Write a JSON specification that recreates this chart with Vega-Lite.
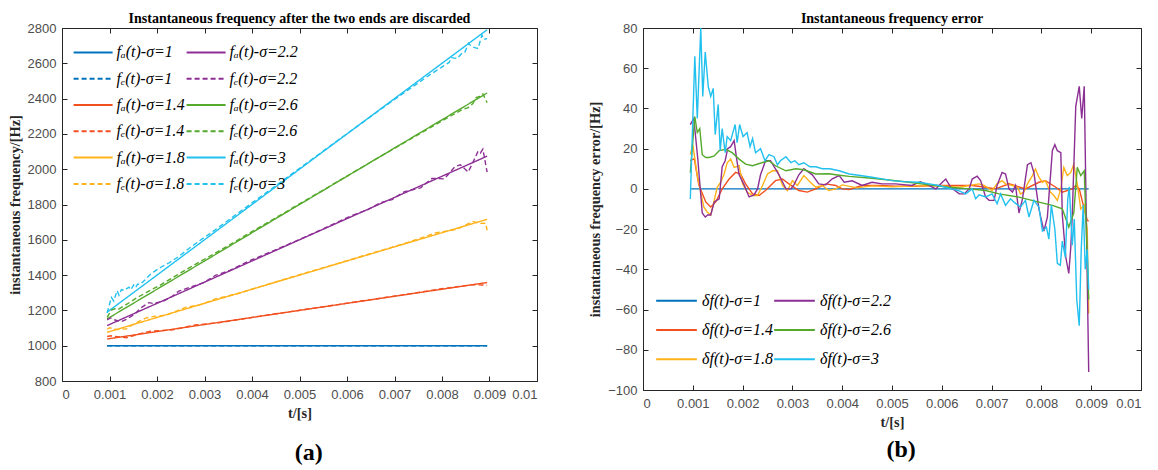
{
"$schema": "https://vega.github.io/schema/vega-lite/v6.json",
"padding": {"left": 8, "top": 11, "right": 0, "bottom": 0},
"background": "white",
"spacing": 50,
"resolve": {"scale": {"color": "independent", "strokeDash": "independent"}, "legend": {"color": "independent", "strokeDash": "independent"}},
"config": {
 "view": {"stroke": null},
 "concat": {"spacing": 0},
 "axis": {"grid": false, "domainColor": "#262626", "tickColor": "#262626", "tickSize": -5, "labelFont": "Liberation Sans", "labelFontSize": 13, "labelColor": "#4d4d4d", "titleFont": "Liberation Serif", "titleFontSize": 14.3, "titleFontWeight": "bold", "titleColor": "#262626"},
 "axisX": {"labelPadding": 12, "titlePadding": 5},
 "axisY": {"labelPadding": 11, "titlePadding": 5},
 "title": {"font": "Liberation Serif", "fontSize": 14, "fontWeight": "bold", "color": "#000000", "anchor": "middle", "frame": "group"},
 "legend": {"labelFont": "Liberation Serif", "labelFontStyle": "italic", "labelFontSize": 16, "labelColor": "#000000", "symbolStrokeWidth": 2, "padding": 0, "clipHeight": 16, "columns": 2, "orient": "none", "labelLimit": 300}
},
"datasets": {
 "a": [
  {"t":0.00095,"f":1000,"s":"fₐ(t)-σ=1"},{"t":0.00895,"f":1000,"s":"fₐ(t)-σ=1"},
  {"t":0.00095,"f":1038,"s":"fₐ(t)-σ=1.4"},{"t":0.00895,"f":1358,"s":"fₐ(t)-σ=1.4"},
  {"t":0.00095,"f":1076,"s":"fₐ(t)-σ=1.8"},{"t":0.00895,"f":1716,"s":"fₐ(t)-σ=1.8"},
  {"t":0.00095,"f":1114,"s":"fₐ(t)-σ=2.2"},{"t":0.00895,"f":2074,"s":"fₐ(t)-σ=2.2"},
  {"t":0.00095,"f":1152,"s":"fₐ(t)-σ=2.6"},{"t":0.00895,"f":2432,"s":"fₐ(t)-σ=2.6"},
  {"t":0.00095,"f":1190,"s":"fₐ(t)-σ=3"},{"t":0.00895,"f":2790,"s":"fₐ(t)-σ=3"},
  {"t":0.00095,"f":1000,"s":"fₑ(t)-σ=1"},{"t":0.00895,"f":1000,"s":"fₑ(t)-σ=1"},
  {"t":0.00095,"f":1052,"s":"fₑ(t)-σ=1.4"},{"t":0.00103,"f":1056,"s":"fₑ(t)-σ=1.4"},{"t":0.00136,"f":1045,"s":"fₑ(t)-σ=1.4"},{"t":0.00159,"f":1064,"s":"fₑ(t)-σ=1.4"},{"t":0.00186,"f":1082,"s":"fₑ(t)-σ=1.4"},{"t":0.00233,"f":1090,"s":"fₑ(t)-σ=1.4"},{"t":0.0028,"f":1117,"s":"fₑ(t)-σ=1.4"},{"t":0.0033,"f":1130,"s":"fₑ(t)-σ=1.4"},{"t":0.00414,"f":1166,"s":"fₑ(t)-σ=1.4"},{"t":0.00548,"f":1220,"s":"fₑ(t)-σ=1.4"},{"t":0.00688,"f":1276,"s":"fₑ(t)-σ=1.4"},{"t":0.00795,"f":1321,"s":"fₑ(t)-σ=1.4"},{"t":0.00862,"f":1345,"s":"fₑ(t)-σ=1.4"},{"t":0.00886,"f":1344,"s":"fₑ(t)-σ=1.4"},{"t":0.00895,"f":1342,"s":"fₑ(t)-σ=1.4"},
  {"t":0.00095,"f":1093,"s":"fₑ(t)-σ=1.8"},{"t":0.001,"f":1102,"s":"fₑ(t)-σ=1.8"},{"t":0.00116,"f":1091,"s":"fₑ(t)-σ=1.8"},{"t":0.00136,"f":1096,"s":"fₑ(t)-σ=1.8"},{"t":0.00149,"f":1120,"s":"fₑ(t)-σ=1.8"},{"t":0.00176,"f":1156,"s":"fₑ(t)-σ=1.8"},{"t":0.00193,"f":1166,"s":"fₑ(t)-σ=1.8"},{"t":0.0022,"f":1173,"s":"fₑ(t)-σ=1.8"},{"t":0.0026,"f":1217,"s":"fₑ(t)-σ=1.8"},{"t":0.0029,"f":1231,"s":"fₑ(t)-σ=1.8"},{"t":0.00323,"f":1265,"s":"fₑ(t)-σ=1.8"},{"t":0.00373,"f":1297,"s":"fₑ(t)-σ=1.8"},{"t":0.0046,"f":1370,"s":"fₑ(t)-σ=1.8"},{"t":0.0055,"f":1442,"s":"fₑ(t)-σ=1.8"},{"t":0.00655,"f":1526,"s":"fₑ(t)-σ=1.8"},{"t":0.00728,"f":1585,"s":"fₑ(t)-σ=1.8"},{"t":0.00788,"f":1640,"s":"fₑ(t)-σ=1.8"},{"t":0.00832,"f":1660,"s":"fₑ(t)-σ=1.8"},{"t":0.00865,"f":1704,"s":"fₑ(t)-σ=1.8"},{"t":0.00879,"f":1693,"s":"fₑ(t)-σ=1.8"},{"t":0.00892,"f":1694,"s":"fₑ(t)-σ=1.8"},{"t":0.00895,"f":1654,"s":"fₑ(t)-σ=1.8"},
  {"t":0.00095,"f":1146,"s":"fₑ(t)-σ=2.2"},{"t":0.00102,"f":1157,"s":"fₑ(t)-σ=2.2"},{"t":0.0011,"f":1147,"s":"fₑ(t)-σ=2.2"},{"t":0.00125,"f":1136,"s":"fₑ(t)-σ=2.2"},{"t":0.00136,"f":1150,"s":"fₑ(t)-σ=2.2"},{"t":0.00153,"f":1179,"s":"fₑ(t)-σ=2.2"},{"t":0.00165,"f":1212,"s":"fₑ(t)-σ=2.2"},{"t":0.00183,"f":1244,"s":"fₑ(t)-σ=2.2"},{"t":0.00193,"f":1239,"s":"fₑ(t)-σ=2.2"},{"t":0.00213,"f":1252,"s":"fₑ(t)-σ=2.2"},{"t":0.0023,"f":1276,"s":"fₑ(t)-σ=2.2"},{"t":0.00246,"f":1309,"s":"fₑ(t)-σ=2.2"},{"t":0.00273,"f":1335,"s":"fₑ(t)-σ=2.2"},{"t":0.00297,"f":1356,"s":"fₑ(t)-σ=2.2"},{"t":0.00323,"f":1398,"s":"fₑ(t)-σ=2.2"},{"t":0.00353,"f":1426,"s":"fₑ(t)-σ=2.2"},{"t":0.00394,"f":1480,"s":"fₑ(t)-σ=2.2"},{"t":0.0046,"f":1555,"s":"fₑ(t)-σ=2.2"},{"t":0.0054,"f":1650,"s":"fₑ(t)-σ=2.2"},{"t":0.00608,"f":1735,"s":"fₑ(t)-σ=2.2"},{"t":0.00645,"f":1772,"s":"fₑ(t)-σ=2.2"},{"t":0.00671,"f":1811,"s":"fₑ(t)-σ=2.2"},{"t":0.00695,"f":1828,"s":"fₑ(t)-σ=2.2"},{"t":0.00721,"f":1873,"s":"fₑ(t)-σ=2.2"},{"t":0.00755,"f":1894,"s":"fₑ(t)-σ=2.2"},{"t":0.00779,"f":1948,"s":"fₑ(t)-σ=2.2"},{"t":0.00805,"f":1945,"s":"fₑ(t)-σ=2.2"},{"t":0.00827,"f":2014,"s":"fₑ(t)-σ=2.2"},{"t":0.00839,"f":2025,"s":"fₑ(t)-σ=2.2"},{"t":0.00855,"f":1984,"s":"fₑ(t)-σ=2.2"},{"t":0.00862,"f":2021,"s":"fₑ(t)-σ=2.2"},{"t":0.00876,"f":2102,"s":"fₑ(t)-σ=2.2"},{"t":0.00881,"f":2092,"s":"fₑ(t)-σ=2.2"},{"t":0.00886,"f":2114,"s":"fₑ(t)-σ=2.2"},{"t":0.00895,"f":1983,"s":"fₑ(t)-σ=2.2"},
  {"t":0.00095,"f":1160,"s":"fₑ(t)-σ=2.6"},{"t":0.00104,"f":1202,"s":"fₑ(t)-σ=2.6"},{"t":0.00114,"f":1212,"s":"fₑ(t)-σ=2.6"},{"t":0.00119,"f":1207,"s":"fₑ(t)-σ=2.6"},{"t":0.00133,"f":1229,"s":"fₑ(t)-σ=2.6"},{"t":0.00153,"f":1264,"s":"fₑ(t)-σ=2.6"},{"t":0.00179,"f":1304,"s":"fₑ(t)-σ=2.6"},{"t":0.00206,"f":1342,"s":"fₑ(t)-σ=2.6"},{"t":0.0024,"f":1397,"s":"fₑ(t)-σ=2.6"},{"t":0.00266,"f":1438,"s":"fₑ(t)-σ=2.6"},{"t":0.00307,"f":1501,"s":"fₑ(t)-σ=2.6"},{"t":0.00347,"f":1562,"s":"fₑ(t)-σ=2.6"},{"t":0.00394,"f":1637,"s":"fₑ(t)-σ=2.6"},{"t":0.00454,"f":1731,"s":"fₑ(t)-σ=2.6"},{"t":0.00534,"f":1857,"s":"fₑ(t)-σ=2.6"},{"t":0.00614,"f":1983,"s":"fₑ(t)-σ=2.6"},{"t":0.00688,"f":2100,"s":"fₑ(t)-σ=2.6"},{"t":0.00755,"f":2204,"s":"fₑ(t)-σ=2.6"},{"t":0.00822,"f":2307,"s":"fₑ(t)-σ=2.6"},{"t":0.00842,"f":2337,"s":"fₑ(t)-σ=2.6"},{"t":0.00855,"f":2349,"s":"fₑ(t)-σ=2.6"},{"t":0.00865,"f":2372,"s":"fₑ(t)-σ=2.6"},{"t":0.00872,"f":2406,"s":"fₑ(t)-σ=2.6"},{"t":0.00879,"f":2413,"s":"fₑ(t)-σ=2.6"},{"t":0.00886,"f":2427,"s":"fₑ(t)-σ=2.6"},{"t":0.00895,"f":2377,"s":"fₑ(t)-σ=2.6"},
  {"t":0.00095,"f":1185,"s":"fₑ(t)-σ=3"},{"t":0.00104,"f":1274,"s":"fₑ(t)-σ=3"},{"t":0.00109,"f":1253,"s":"fₑ(t)-σ=3"},{"t":0.00116,"f":1312,"s":"fₑ(t)-σ=3"},{"t":0.0012,"f":1286,"s":"fₑ(t)-σ=3"},{"t":0.00125,"f":1318,"s":"fₑ(t)-σ=3"},{"t":0.00131,"f":1313,"s":"fₑ(t)-σ=3"},{"t":0.00141,"f":1332,"s":"fₑ(t)-σ=3"},{"t":0.00145,"f":1317,"s":"fₑ(t)-σ=3"},{"t":0.00151,"f":1344,"s":"fₑ(t)-σ=3"},{"t":0.00155,"f":1329,"s":"fₑ(t)-σ=3"},{"t":0.00159,"f":1348,"s":"fₑ(t)-σ=3"},{"t":0.00165,"f":1348,"s":"fₑ(t)-σ=3"},{"t":0.00176,"f":1376,"s":"fₑ(t)-σ=3"},{"t":0.00185,"f":1402,"s":"fₑ(t)-σ=3"},{"t":0.00194,"f":1420,"s":"fₑ(t)-σ=3"},{"t":0.00209,"f":1446,"s":"fₑ(t)-σ=3"},{"t":0.00226,"f":1470,"s":"fₑ(t)-σ=3"},{"t":0.00245,"f":1504,"s":"fₑ(t)-σ=3"},{"t":0.00263,"f":1542,"s":"fₑ(t)-σ=3"},{"t":0.00287,"f":1590,"s":"fₑ(t)-σ=3"},{"t":0.00313,"f":1638,"s":"fₑ(t)-σ=3"},{"t":0.00347,"f":1705,"s":"fₑ(t)-σ=3"},{"t":0.00394,"f":1797,"s":"fₑ(t)-σ=3"},{"t":0.0046,"f":1926,"s":"fₑ(t)-σ=3"},{"t":0.00554,"f":2111,"s":"fₑ(t)-σ=3"},{"t":0.0062,"f":2240,"s":"fₑ(t)-σ=3"},{"t":0.00688,"f":2372,"s":"fₑ(t)-σ=3"},{"t":0.00728,"f":2448,"s":"fₑ(t)-σ=3"},{"t":0.00775,"f":2536,"s":"fₑ(t)-σ=3"},{"t":0.00802,"f":2583,"s":"fₑ(t)-σ=3"},{"t":0.00815,"f":2605,"s":"fₑ(t)-σ=3"},{"t":0.0082,"f":2632,"s":"fₑ(t)-σ=3"},{"t":0.00832,"f":2627,"s":"fₑ(t)-σ=3"},{"t":0.00842,"f":2658,"s":"fₑ(t)-σ=3"},{"t":0.00848,"f":2662,"s":"fₑ(t)-σ=3"},{"t":0.00856,"f":2713,"s":"fₑ(t)-σ=3"},{"t":0.00862,"f":2696,"s":"fₑ(t)-σ=3"},{"t":0.00871,"f":2687,"s":"fₑ(t)-σ=3"},{"t":0.00876,"f":2684,"s":"fₑ(t)-σ=3"},{"t":0.00884,"f":2760,"s":"fₑ(t)-σ=3"},{"t":0.00888,"f":2736,"s":"fₑ(t)-σ=3"},{"t":0.00895,"f":2740,"s":"fₑ(t)-σ=3"}
 ],
 "b": [
  {"t":0.00095,"e":0,"s":"δf(t)-σ=1"},{"t":0.00895,"e":0,"s":"δf(t)-σ=1"},
  {"t":0.00095,"e":14,"s":"δf(t)-σ=1.4"},{"t":0.00103,"e":15,"s":"δf(t)-σ=1.4"},{"t":0.00112,"e":2,"s":"δf(t)-σ=1.4"},{"t":0.00126,"e":-6.5,"s":"δf(t)-σ=1.4"},{"t":0.00136,"e":-9,"s":"δf(t)-σ=1.4"},{"t":0.00146,"e":-6.5,"s":"δf(t)-σ=1.4"},{"t":0.00159,"e":0,"s":"δf(t)-σ=1.4"},{"t":0.00173,"e":4.9,"s":"δf(t)-σ=1.4"},{"t":0.00186,"e":8.2,"s":"δf(t)-σ=1.4"},{"t":0.00196,"e":7.4,"s":"δf(t)-σ=1.4"},{"t":0.00206,"e":2.5,"s":"δf(t)-σ=1.4"},{"t":0.0022,"e":-2.5,"s":"δf(t)-σ=1.4"},{"t":0.00233,"e":-3.3,"s":"δf(t)-σ=1.4"},{"t":0.00246,"e":-0.8,"s":"δf(t)-σ=1.4"},{"t":0.00266,"e":4.1,"s":"δf(t)-σ=1.4"},{"t":0.0028,"e":4.9,"s":"δf(t)-σ=1.4"},{"t":0.00293,"e":2.5,"s":"δf(t)-σ=1.4"},{"t":0.00313,"e":-0.8,"s":"δf(t)-σ=1.4"},{"t":0.0033,"e":-1.6,"s":"δf(t)-σ=1.4"},{"t":0.00347,"e":0,"s":"δf(t)-σ=1.4"},{"t":0.00367,"e":2.5,"s":"δf(t)-σ=1.4"},{"t":0.00387,"e":1.7,"s":"δf(t)-σ=1.4"},{"t":0.004,"e":0,"s":"δf(t)-σ=1.4"},{"t":0.00414,"e":-0.3,"s":"δf(t)-σ=1.4"},{"t":0.0044,"e":1.7,"s":"δf(t)-σ=1.4"},{"t":0.00474,"e":1.7,"s":"δf(t)-σ=1.4"},{"t":0.00507,"e":1.3,"s":"δf(t)-σ=1.4"},{"t":0.00548,"e":1.3,"s":"δf(t)-σ=1.4"},{"t":0.00588,"e":1.7,"s":"δf(t)-σ=1.4"},{"t":0.00628,"e":1.7,"s":"δf(t)-σ=1.4"},{"t":0.00661,"e":1.7,"s":"δf(t)-σ=1.4"},{"t":0.00688,"e":0.8,"s":"δf(t)-σ=1.4"},{"t":0.00708,"e":0,"s":"δf(t)-σ=1.4"},{"t":0.00735,"e":2.5,"s":"δf(t)-σ=1.4"},{"t":0.00768,"e":0,"s":"δf(t)-σ=1.4"},{"t":0.00795,"e":3.3,"s":"δf(t)-σ=1.4"},{"t":0.00808,"e":4.1,"s":"δf(t)-σ=1.4"},{"t":0.00829,"e":0.8,"s":"δf(t)-σ=1.4"},{"t":0.00842,"e":-1.6,"s":"δf(t)-σ=1.4"},{"t":0.00862,"e":0,"s":"δf(t)-σ=1.4"},{"t":0.00869,"e":1.7,"s":"δf(t)-σ=1.4"},{"t":0.00876,"e":0,"s":"δf(t)-σ=1.4"},{"t":0.00886,"e":-9.9,"s":"δf(t)-σ=1.4"},{"t":0.00892,"e":-15.6,"s":"δf(t)-σ=1.4"},{"t":0.00895,"e":-16,"s":"δf(t)-σ=1.4"},
  {"t":0.00095,"e":17,"s":"δf(t)-σ=1.8"},{"t":0.001,"e":22,"s":"δf(t)-σ=1.8"},{"t":0.00109,"e":6.6,"s":"δf(t)-σ=1.8"},{"t":0.00116,"e":-1.6,"s":"δf(t)-σ=1.8"},{"t":0.00122,"e":-9,"s":"δf(t)-σ=1.8"},{"t":0.00129,"e":-11.5,"s":"δf(t)-σ=1.8"},{"t":0.00136,"e":-13,"s":"δf(t)-σ=1.8"},{"t":0.00143,"e":-5.7,"s":"δf(t)-σ=1.8"},{"t":0.00149,"e":0.8,"s":"δf(t)-σ=1.8"},{"t":0.00156,"e":3.3,"s":"δf(t)-σ=1.8"},{"t":0.00163,"e":7.4,"s":"δf(t)-σ=1.8"},{"t":0.00169,"e":13,"s":"δf(t)-σ=1.8"},{"t":0.00176,"e":14.8,"s":"δf(t)-σ=1.8"},{"t":0.00183,"e":10.7,"s":"δf(t)-σ=1.8"},{"t":0.00193,"e":11.5,"s":"δf(t)-σ=1.8"},{"t":0.002,"e":2.5,"s":"δf(t)-σ=1.8"},{"t":0.00209,"e":-1.6,"s":"δf(t)-σ=1.8"},{"t":0.0022,"e":-3.3,"s":"δf(t)-σ=1.8"},{"t":0.0023,"e":-3.3,"s":"δf(t)-σ=1.8"},{"t":0.0024,"e":1.7,"s":"δf(t)-σ=1.8"},{"t":0.0025,"e":7.4,"s":"δf(t)-σ=1.8"},{"t":0.0026,"e":9,"s":"δf(t)-σ=1.8"},{"t":0.0027,"e":9,"s":"δf(t)-σ=1.8"},{"t":0.0028,"e":1.7,"s":"δf(t)-σ=1.8"},{"t":0.0029,"e":-0.8,"s":"δf(t)-σ=1.8"},{"t":0.003,"e":4.1,"s":"δf(t)-σ=1.8"},{"t":0.0031,"e":1.7,"s":"δf(t)-σ=1.8"},{"t":0.00323,"e":6.6,"s":"δf(t)-σ=1.8"},{"t":0.00336,"e":3.3,"s":"δf(t)-σ=1.8"},{"t":0.00347,"e":0.8,"s":"δf(t)-σ=1.8"},{"t":0.0036,"e":1.7,"s":"δf(t)-σ=1.8"},{"t":0.00373,"e":-0.8,"s":"δf(t)-σ=1.8"},{"t":0.00387,"e":0,"s":"δf(t)-σ=1.8"},{"t":0.004,"e":2,"s":"δf(t)-σ=1.8"},{"t":0.0043,"e":0.5,"s":"δf(t)-σ=1.8"},{"t":0.0046,"e":1.5,"s":"δf(t)-σ=1.8"},{"t":0.005,"e":1,"s":"δf(t)-σ=1.8"},{"t":0.0055,"e":1.5,"s":"δf(t)-σ=1.8"},{"t":0.006,"e":1.5,"s":"δf(t)-σ=1.8"},{"t":0.00635,"e":0.8,"s":"δf(t)-σ=1.8"},{"t":0.00655,"e":1.7,"s":"δf(t)-σ=1.8"},{"t":0.00675,"e":2.5,"s":"δf(t)-σ=1.8"},{"t":0.00685,"e":1.7,"s":"δf(t)-σ=1.8"},{"t":0.00701,"e":-0.8,"s":"δf(t)-σ=1.8"},{"t":0.00711,"e":2.5,"s":"δf(t)-σ=1.8"},{"t":0.00721,"e":4.1,"s":"δf(t)-σ=1.8"},{"t":0.00728,"e":2.5,"s":"δf(t)-σ=1.8"},{"t":0.00742,"e":1.7,"s":"δf(t)-σ=1.8"},{"t":0.00752,"e":0.8,"s":"δf(t)-σ=1.8"},{"t":0.00758,"e":-2.5,"s":"δf(t)-σ=1.8"},{"t":0.00765,"e":-1.6,"s":"δf(t)-σ=1.8"},{"t":0.00772,"e":2.5,"s":"δf(t)-σ=1.8"},{"t":0.00782,"e":6.6,"s":"δf(t)-σ=1.8"},{"t":0.00788,"e":9.9,"s":"δf(t)-σ=1.8"},{"t":0.00795,"e":5.8,"s":"δf(t)-σ=1.8"},{"t":0.00802,"e":3.3,"s":"δf(t)-σ=1.8"},{"t":0.00808,"e":4.1,"s":"δf(t)-σ=1.8"},{"t":0.00818,"e":-1.6,"s":"δf(t)-σ=1.8"},{"t":0.00825,"e":-3.3,"s":"δf(t)-σ=1.8"},{"t":0.00832,"e":-5.7,"s":"δf(t)-σ=1.8"},{"t":0.00839,"e":0,"s":"δf(t)-σ=1.8"},{"t":0.00845,"e":10.7,"s":"δf(t)-σ=1.8"},{"t":0.00852,"e":6.6,"s":"δf(t)-σ=1.8"},{"t":0.00859,"e":8.2,"s":"δf(t)-σ=1.8"},{"t":0.00865,"e":12.3,"s":"δf(t)-σ=1.8"},{"t":0.00872,"e":2.5,"s":"δf(t)-σ=1.8"},{"t":0.00879,"e":-10,"s":"δf(t)-σ=1.8"},{"t":0.00886,"e":-8,"s":"δf(t)-σ=1.8"},{"t":0.00892,"e":-20,"s":"δf(t)-σ=1.8"},{"t":0.00895,"e":-62,"s":"δf(t)-σ=1.8"},
  {"t":0.00095,"e":32,"s":"δf(t)-σ=2.2"},{"t":0.00102,"e":35,"s":"δf(t)-σ=2.2"},{"t":0.0011,"e":15,"s":"δf(t)-σ=2.2"},{"t":0.00119,"e":-12,"s":"δf(t)-σ=2.2"},{"t":0.00125,"e":-14,"s":"δf(t)-σ=2.2"},{"t":0.0013,"e":-13,"s":"δf(t)-σ=2.2"},{"t":0.00136,"e":-13,"s":"δf(t)-σ=2.2"},{"t":0.00143,"e":-6.5,"s":"δf(t)-σ=2.2"},{"t":0.00153,"e":-5,"s":"δf(t)-σ=2.2"},{"t":0.00159,"e":11,"s":"δf(t)-σ=2.2"},{"t":0.00165,"e":14,"s":"δf(t)-σ=2.2"},{"t":0.0017,"e":20,"s":"δf(t)-σ=2.2"},{"t":0.00176,"e":21,"s":"δf(t)-σ=2.2"},{"t":0.00183,"e":24,"s":"δf(t)-σ=2.2"},{"t":0.00188,"e":15,"s":"δf(t)-σ=2.2"},{"t":0.00193,"e":7,"s":"δf(t)-σ=2.2"},{"t":0.00203,"e":2,"s":"δf(t)-σ=2.2"},{"t":0.00213,"e":-4,"s":"δf(t)-σ=2.2"},{"t":0.00223,"e":-3,"s":"δf(t)-σ=2.2"},{"t":0.0023,"e":0,"s":"δf(t)-σ=2.2"},{"t":0.00236,"e":7,"s":"δf(t)-σ=2.2"},{"t":0.00246,"e":14,"s":"δf(t)-σ=2.2"},{"t":0.00256,"e":14,"s":"δf(t)-σ=2.2"},{"t":0.00266,"e":10,"s":"δf(t)-σ=2.2"},{"t":0.00273,"e":7,"s":"δf(t)-σ=2.2"},{"t":0.00287,"e":0,"s":"δf(t)-σ=2.2"},{"t":0.00297,"e":0,"s":"δf(t)-σ=2.2"},{"t":0.00303,"e":2,"s":"δf(t)-σ=2.2"},{"t":0.00313,"e":7,"s":"δf(t)-σ=2.2"},{"t":0.00323,"e":10,"s":"δf(t)-σ=2.2"},{"t":0.0034,"e":7,"s":"δf(t)-σ=2.2"},{"t":0.00353,"e":2.5,"s":"δf(t)-σ=2.2"},{"t":0.00367,"e":2,"s":"δf(t)-σ=2.2"},{"t":0.0038,"e":5,"s":"δf(t)-σ=2.2"},{"t":0.00394,"e":6.6,"s":"δf(t)-σ=2.2"},{"t":0.00404,"e":3.3,"s":"δf(t)-σ=2.2"},{"t":0.0042,"e":4,"s":"δf(t)-σ=2.2"},{"t":0.0044,"e":1.7,"s":"δf(t)-σ=2.2"},{"t":0.0046,"e":3.3,"s":"δf(t)-σ=2.2"},{"t":0.0048,"e":2.5,"s":"δf(t)-σ=2.2"},{"t":0.00507,"e":2.5,"s":"δf(t)-σ=2.2"},{"t":0.0054,"e":1.7,"s":"δf(t)-σ=2.2"},{"t":0.00557,"e":3.6,"s":"δf(t)-σ=2.2"},{"t":0.00574,"e":1.7,"s":"δf(t)-σ=2.2"},{"t":0.00588,"e":0,"s":"δf(t)-σ=2.2"},{"t":0.00601,"e":3.3,"s":"δf(t)-σ=2.2"},{"t":0.00608,"e":4.9,"s":"δf(t)-σ=2.2"},{"t":0.00618,"e":0.8,"s":"δf(t)-σ=2.2"},{"t":0.00635,"e":-2.5,"s":"δf(t)-σ=2.2"},{"t":0.00645,"e":-2.5,"s":"δf(t)-σ=2.2"},{"t":0.00655,"e":0,"s":"δf(t)-σ=2.2"},{"t":0.00661,"e":4.9,"s":"δf(t)-σ=2.2"},{"t":0.00671,"e":6.3,"s":"δf(t)-σ=2.2"},{"t":0.00678,"e":4.1,"s":"δf(t)-σ=2.2"},{"t":0.00688,"e":-4.1,"s":"δf(t)-σ=2.2"},{"t":0.00695,"e":-5.7,"s":"δf(t)-σ=2.2"},{"t":0.00705,"e":-5.7,"s":"δf(t)-σ=2.2"},{"t":0.00711,"e":1.7,"s":"δf(t)-σ=2.2"},{"t":0.00721,"e":8.2,"s":"δf(t)-σ=2.2"},{"t":0.00728,"e":7.4,"s":"δf(t)-σ=2.2"},{"t":0.00735,"e":0,"s":"δf(t)-σ=2.2"},{"t":0.00742,"e":-1.6,"s":"δf(t)-σ=2.2"},{"t":0.00748,"e":1.7,"s":"δf(t)-σ=2.2"},{"t":0.00755,"e":-12,"s":"δf(t)-σ=2.2"},{"t":0.00762,"e":-5,"s":"δf(t)-σ=2.2"},{"t":0.00772,"e":12,"s":"δf(t)-σ=2.2"},{"t":0.00779,"e":13,"s":"δf(t)-σ=2.2"},{"t":0.00785,"e":8,"s":"δf(t)-σ=2.2"},{"t":0.00795,"e":-10,"s":"δf(t)-σ=2.2"},{"t":0.00805,"e":-21,"s":"δf(t)-σ=2.2"},{"t":0.00812,"e":-14,"s":"δf(t)-σ=2.2"},{"t":0.00822,"e":19,"s":"δf(t)-σ=2.2"},{"t":0.00827,"e":22,"s":"δf(t)-σ=2.2"},{"t":0.00832,"e":19,"s":"δf(t)-σ=2.2"},{"t":0.00839,"e":18,"s":"δf(t)-σ=2.2"},{"t":0.00842,"e":-13,"s":"δf(t)-σ=2.2"},{"t":0.00849,"e":-34,"s":"δf(t)-σ=2.2"},{"t":0.00855,"e":-42,"s":"δf(t)-σ=2.2"},{"t":0.00859,"e":-29,"s":"δf(t)-σ=2.2"},{"t":0.00862,"e":-13,"s":"δf(t)-σ=2.2"},{"t":0.00869,"e":41,"s":"δf(t)-σ=2.2"},{"t":0.00876,"e":51,"s":"δf(t)-σ=2.2"},{"t":0.00881,"e":35,"s":"δf(t)-σ=2.2"},{"t":0.00886,"e":51,"s":"δf(t)-σ=2.2"},{"t":0.00895,"e":-91,"s":"δf(t)-σ=2.2"},
  {"t":0.00095,"e":8,"s":"δf(t)-σ=2.6"},{"t":0.00104,"e":36,"s":"δf(t)-σ=2.6"},{"t":0.00109,"e":28,"s":"δf(t)-σ=2.6"},{"t":0.00114,"e":30,"s":"δf(t)-σ=2.6"},{"t":0.00119,"e":17,"s":"δf(t)-σ=2.6"},{"t":0.00126,"e":15.6,"s":"δf(t)-σ=2.6"},{"t":0.00133,"e":15.6,"s":"δf(t)-σ=2.6"},{"t":0.00143,"e":16.4,"s":"δf(t)-σ=2.6"},{"t":0.00153,"e":19,"s":"δf(t)-σ=2.6"},{"t":0.00166,"e":19.7,"s":"δf(t)-σ=2.6"},{"t":0.00179,"e":18,"s":"δf(t)-σ=2.6"},{"t":0.00193,"e":14.8,"s":"δf(t)-σ=2.6"},{"t":0.00206,"e":12.3,"s":"δf(t)-σ=2.6"},{"t":0.0022,"e":11.5,"s":"δf(t)-σ=2.6"},{"t":0.0024,"e":13.1,"s":"δf(t)-σ=2.6"},{"t":0.00253,"e":14,"s":"δf(t)-σ=2.6"},{"t":0.00266,"e":11.5,"s":"δf(t)-σ=2.6"},{"t":0.00287,"e":9,"s":"δf(t)-σ=2.6"},{"t":0.00307,"e":10,"s":"δf(t)-σ=2.6"},{"t":0.00323,"e":9.5,"s":"δf(t)-σ=2.6"},{"t":0.00347,"e":7.4,"s":"δf(t)-σ=2.6"},{"t":0.00373,"e":7.5,"s":"δf(t)-σ=2.6"},{"t":0.00394,"e":6.8,"s":"δf(t)-σ=2.6"},{"t":0.00414,"e":6.2,"s":"δf(t)-σ=2.6"},{"t":0.00454,"e":5.4,"s":"δf(t)-σ=2.6"},{"t":0.00494,"e":4.4,"s":"δf(t)-σ=2.6"},{"t":0.00534,"e":3.3,"s":"δf(t)-σ=2.6"},{"t":0.00574,"e":2,"s":"δf(t)-σ=2.6"},{"t":0.00614,"e":0.8,"s":"δf(t)-σ=2.6"},{"t":0.00655,"e":0,"s":"δf(t)-σ=2.6"},{"t":0.00688,"e":-0.8,"s":"δf(t)-σ=2.6"},{"t":0.00715,"e":-2.5,"s":"δf(t)-σ=2.6"},{"t":0.00755,"e":-4.1,"s":"δf(t)-σ=2.6"},{"t":0.00795,"e":-6.6,"s":"δf(t)-σ=2.6"},{"t":0.00822,"e":-8.2,"s":"δf(t)-σ=2.6"},{"t":0.00842,"e":-9.9,"s":"δf(t)-σ=2.6"},{"t":0.00855,"e":-19,"s":"δf(t)-σ=2.6"},{"t":0.00865,"e":-12,"s":"δf(t)-σ=2.6"},{"t":0.00872,"e":10.7,"s":"δf(t)-σ=2.6"},{"t":0.00879,"e":6.6,"s":"δf(t)-σ=2.6"},{"t":0.00886,"e":9,"s":"δf(t)-σ=2.6"},{"t":0.00895,"e":-55,"s":"δf(t)-σ=2.6"},
  {"t":0.00095,"e":-5,"s":"δf(t)-σ=3"},{"t":0.00104,"e":66,"s":"δf(t)-σ=3"},{"t":0.00109,"e":35,"s":"δf(t)-σ=3"},{"t":0.00116,"e":80,"s":"δf(t)-σ=3"},{"t":0.0012,"e":46,"s":"δf(t)-σ=3"},{"t":0.00125,"e":68,"s":"δf(t)-σ=3"},{"t":0.00131,"e":51,"s":"δf(t)-σ=3"},{"t":0.00136,"e":46,"s":"δf(t)-σ=3"},{"t":0.00141,"e":50,"s":"δf(t)-σ=3"},{"t":0.00145,"e":27,"s":"δf(t)-σ=3"},{"t":0.00151,"e":42,"s":"δf(t)-σ=3"},{"t":0.00155,"e":19,"s":"δf(t)-σ=3"},{"t":0.00159,"e":30,"s":"δf(t)-σ=3"},{"t":0.00165,"e":18,"s":"δf(t)-σ=3"},{"t":0.00169,"e":26,"s":"δf(t)-σ=3"},{"t":0.00176,"e":24,"s":"δf(t)-σ=3"},{"t":0.00185,"e":32,"s":"δf(t)-σ=3"},{"t":0.00189,"e":23,"s":"δf(t)-σ=3"},{"t":0.00194,"e":32,"s":"δf(t)-σ=3"},{"t":0.00201,"e":26,"s":"δf(t)-σ=3"},{"t":0.00209,"e":28,"s":"δf(t)-σ=3"},{"t":0.00215,"e":21,"s":"δf(t)-σ=3"},{"t":0.0022,"e":25,"s":"δf(t)-σ=3"},{"t":0.00226,"e":18,"s":"δf(t)-σ=3"},{"t":0.00236,"e":20,"s":"δf(t)-σ=3"},{"t":0.00245,"e":14,"s":"δf(t)-σ=3"},{"t":0.00253,"e":17,"s":"δf(t)-σ=3"},{"t":0.00263,"e":16,"s":"δf(t)-σ=3"},{"t":0.0027,"e":12,"s":"δf(t)-σ=3"},{"t":0.00276,"e":14,"s":"δf(t)-σ=3"},{"t":0.00287,"e":16,"s":"δf(t)-σ=3"},{"t":0.00297,"e":13,"s":"δf(t)-σ=3"},{"t":0.00305,"e":14,"s":"δf(t)-σ=3"},{"t":0.00313,"e":12,"s":"δf(t)-σ=3"},{"t":0.00323,"e":13,"s":"δf(t)-σ=3"},{"t":0.00335,"e":11,"s":"δf(t)-σ=3"},{"t":0.00347,"e":11,"s":"δf(t)-σ=3"},{"t":0.0036,"e":10,"s":"δf(t)-σ=3"},{"t":0.00375,"e":10,"s":"δf(t)-σ=3"},{"t":0.00394,"e":9,"s":"δf(t)-σ=3"},{"t":0.00414,"e":7.4,"s":"δf(t)-σ=3"},{"t":0.0044,"e":6.5,"s":"δf(t)-σ=3"},{"t":0.0046,"e":5.8,"s":"δf(t)-σ=3"},{"t":0.0048,"e":5,"s":"δf(t)-σ=3"},{"t":0.005,"e":4.1,"s":"δf(t)-σ=3"},{"t":0.00525,"e":3.6,"s":"δf(t)-σ=3"},{"t":0.00554,"e":3.3,"s":"δf(t)-σ=3"},{"t":0.00575,"e":2.5,"s":"δf(t)-σ=3"},{"t":0.00594,"e":1.7,"s":"δf(t)-σ=3"},{"t":0.0062,"e":0,"s":"δf(t)-σ=3"},{"t":0.00635,"e":-1,"s":"δf(t)-σ=3"},{"t":0.00648,"e":-2.5,"s":"δf(t)-σ=3"},{"t":0.00661,"e":0,"s":"δf(t)-σ=3"},{"t":0.00668,"e":-4.9,"s":"δf(t)-σ=3"},{"t":0.00675,"e":-3,"s":"δf(t)-σ=3"},{"t":0.00688,"e":-4,"s":"δf(t)-σ=3"},{"t":0.00701,"e":-2.5,"s":"δf(t)-σ=3"},{"t":0.00711,"e":-7.4,"s":"δf(t)-σ=3"},{"t":0.00718,"e":-2.5,"s":"δf(t)-σ=3"},{"t":0.00728,"e":-8.2,"s":"δf(t)-σ=3"},{"t":0.00738,"e":-4.9,"s":"δf(t)-σ=3"},{"t":0.00745,"e":-6.6,"s":"δf(t)-σ=3"},{"t":0.00758,"e":-9,"s":"δf(t)-σ=3"},{"t":0.00768,"e":-5.7,"s":"δf(t)-σ=3"},{"t":0.00775,"e":-14,"s":"δf(t)-σ=3"},{"t":0.00785,"e":-5.7,"s":"δf(t)-σ=3"},{"t":0.00795,"e":-9,"s":"δf(t)-σ=3"},{"t":0.00802,"e":-21,"s":"δf(t)-σ=3"},{"t":0.0081,"e":-19,"s":"δf(t)-σ=3"},{"t":0.00815,"e":-25,"s":"δf(t)-σ=3"},{"t":0.0082,"e":-8,"s":"δf(t)-σ=3"},{"t":0.00827,"e":-20,"s":"δf(t)-σ=3"},{"t":0.00832,"e":-37,"s":"δf(t)-σ=3"},{"t":0.00838,"e":-38,"s":"δf(t)-σ=3"},{"t":0.00842,"e":-26,"s":"δf(t)-σ=3"},{"t":0.00848,"e":-34,"s":"δf(t)-σ=3"},{"t":0.00853,"e":-5,"s":"δf(t)-σ=3"},{"t":0.00856,"e":1,"s":"δf(t)-σ=3"},{"t":0.00862,"e":-28,"s":"δf(t)-σ=3"},{"t":0.00866,"e":-15,"s":"δf(t)-σ=3"},{"t":0.00871,"e":-55,"s":"δf(t)-σ=3"},{"t":0.00876,"e":-68,"s":"δf(t)-σ=3"},{"t":0.0088,"e":-30,"s":"δf(t)-σ=3"},{"t":0.00884,"e":-8,"s":"δf(t)-σ=3"},{"t":0.00888,"e":-40,"s":"δf(t)-σ=3"},{"t":0.00892,"e":-30,"s":"δf(t)-σ=3"},{"t":0.00895,"e":-50,"s":"δf(t)-σ=3"}
 ]
},
"hconcat": [
 {"title": {"text": "(a)", "orient": "bottom", "fontSize": 24, "offset": 21, "anchor": "middle", "frame": "bounds", "dx": 36},
  "resolve": {"scale": {"color": "independent", "strokeDash": "independent"}, "legend": {"color": "independent", "strokeDash": "independent"}},
  "vconcat": [
  {"width": 475, "height": 353, "data": {"name": "a"},
   "title": {"text": "Instantaneous frequency after the two ends are discarded", "offset": -3.7},
   "layer": [
    {"mark": {"type": "line", "strokeWidth": 1.4, "clip": true},
     "encoding": {
      "x": {"field": "t", "type": "quantitative", "scale": {"domain": [0, 0.01], "nice": false}, "axis": {"values": [0,0.001,0.002,0.003,0.004,0.005,0.006,0.007,0.008,0.009,0.01], "format": "~g", "title": "t/[s]"}},
      "y": {"field": "f", "type": "quantitative", "scale": {"domain": [800, 2800], "nice": false}, "axis": {"values": [800,1000,1200,1400,1600,1800,2000,2200,2400,2600,2800], "format": "d", "title": "instantaneous frequency/[Hz]"}},
      "color": {"field": "s", "type": "nominal",
        "scale": {"domain": ["fₐ(t)-σ=1","fₑ(t)-σ=1","fₐ(t)-σ=1.4","fₑ(t)-σ=1.4","fₐ(t)-σ=1.8","fₑ(t)-σ=1.8","fₐ(t)-σ=2.2","fₑ(t)-σ=2.2","fₐ(t)-σ=2.6","fₑ(t)-σ=2.6","fₐ(t)-σ=3","fₑ(t)-σ=3"],
                  "range": ["#0072BD","#0072BD","#F2501F","#F2501F","#FFB21A","#FFB21A","#8C2F94","#8C2F94","#55A92C","#55A92C","#21C0EF","#21C0EF"]},
        "legend": {"title": null, "symbolSize": 1521, "rowPadding": 10.3, "columnPadding": -25, "labelOffset": 3, "legendX": 10.6, "legendY": 16.4}},
      "strokeDash": {"field": "s", "type": "nominal",
        "scale": {"domain": ["fₐ(t)-σ=1","fₑ(t)-σ=1","fₐ(t)-σ=1.4","fₑ(t)-σ=1.4","fₐ(t)-σ=1.8","fₑ(t)-σ=1.8","fₐ(t)-σ=2.2","fₑ(t)-σ=2.2","fₐ(t)-σ=2.6","fₑ(t)-σ=2.6","fₐ(t)-σ=3","fₑ(t)-σ=3"],
                  "range": [[1,0],[5,3],[1,0],[5,3],[1,0],[5,3],[1,0],[5,3],[1,0],[5,3],[1,0],[5,3]]},
        "legend": {"title": null, "symbolSize": 1521, "rowPadding": 10.3, "columnPadding": -25, "labelOffset": 3, "legendX": 10.6, "legendY": 16.4}}
     }},
    {"mark": {"type": "line", "opacity": 0},
     "encoding": {
      "x": {"field": "t", "type": "quantitative", "scale": {"domain": [0, 0.01], "nice": false}, "axis": {"orient": "top", "labels": false, "labelPadding": 5, "title": null, "values": [0,0.001,0.002,0.003,0.004,0.005,0.006,0.007,0.008,0.009,0.01]}},
      "y": {"field": "f", "type": "quantitative", "scale": {"domain": [800, 2800], "nice": false}, "axis": {"orient": "right", "labels": false, "labelPadding": 5, "title": null, "values": [800,1000,1200,1400,1600,1800,2000,2200,2400,2600,2800]}},
      "detail": {"field": "s"}
     }}
   ],
   "resolve": {"axis": {"x": "independent", "y": "independent"}}
  }]
 },
 {"title": {"text": "(b)", "orient": "bottom", "fontSize": 24, "offset": 9, "anchor": "middle", "frame": "bounds", "dx": 36},
  "resolve": {"scale": {"color": "independent"}, "legend": {"color": "independent"}},
  "vconcat": [
  {"width": 498, "height": 362, "data": {"name": "b"},
   "title": {"text": "Instantaneous frequency error", "offset": -3.7},
   "layer": [
    {"mark": {"type": "line", "strokeWidth": 1.4, "clip": true},
     "encoding": {
      "x": {"field": "t", "type": "quantitative", "scale": {"domain": [0, 0.01], "nice": false}, "axis": {"values": [0,0.001,0.002,0.003,0.004,0.005,0.006,0.007,0.008,0.009,0.01], "format": "~g", "title": "t/[s]"}},
      "y": {"field": "e", "type": "quantitative", "scale": {"domain": [-100, 80], "nice": false}, "axis": {"values": [-100,-80,-60,-40,-20,0,20,40,60,80], "title": "instantaneous frequency error/[Hz]"}},
      "color": {"field": "s", "type": "nominal",
        "scale": {"domain": ["δf(t)-σ=1","δf(t)-σ=1.4","δf(t)-σ=1.8","δf(t)-σ=2.2","δf(t)-σ=2.6","δf(t)-σ=3"],
                  "range": ["#0072BD","#F2501F","#FFB21A","#8C2F94","#55A92C","#21C0EF"]},
        "legend": {"title": null, "symbolSize": 1656, "rowPadding": 13.3, "columnPadding": 0, "labelOffset": 4, "legendX": 12, "legendY": 264.7}}
     }},
    {"mark": {"type": "line", "opacity": 0},
     "encoding": {
      "x": {"field": "t", "type": "quantitative", "scale": {"domain": [0, 0.01], "nice": false}, "axis": {"orient": "top", "labels": false, "labelPadding": 5, "title": null, "values": [0,0.001,0.002,0.003,0.004,0.005,0.006,0.007,0.008,0.009,0.01]}},
      "y": {"field": "e", "type": "quantitative", "scale": {"domain": [-100, 80], "nice": false}, "axis": {"orient": "right", "labels": false, "labelPadding": 5, "title": null, "values": [-100,-80,-60,-40,-20,0,20,40,60,80]}},
      "detail": {"field": "s"}
     }}
   ],
   "resolve": {"axis": {"x": "independent", "y": "independent"}}
  }]
 }
]
}
